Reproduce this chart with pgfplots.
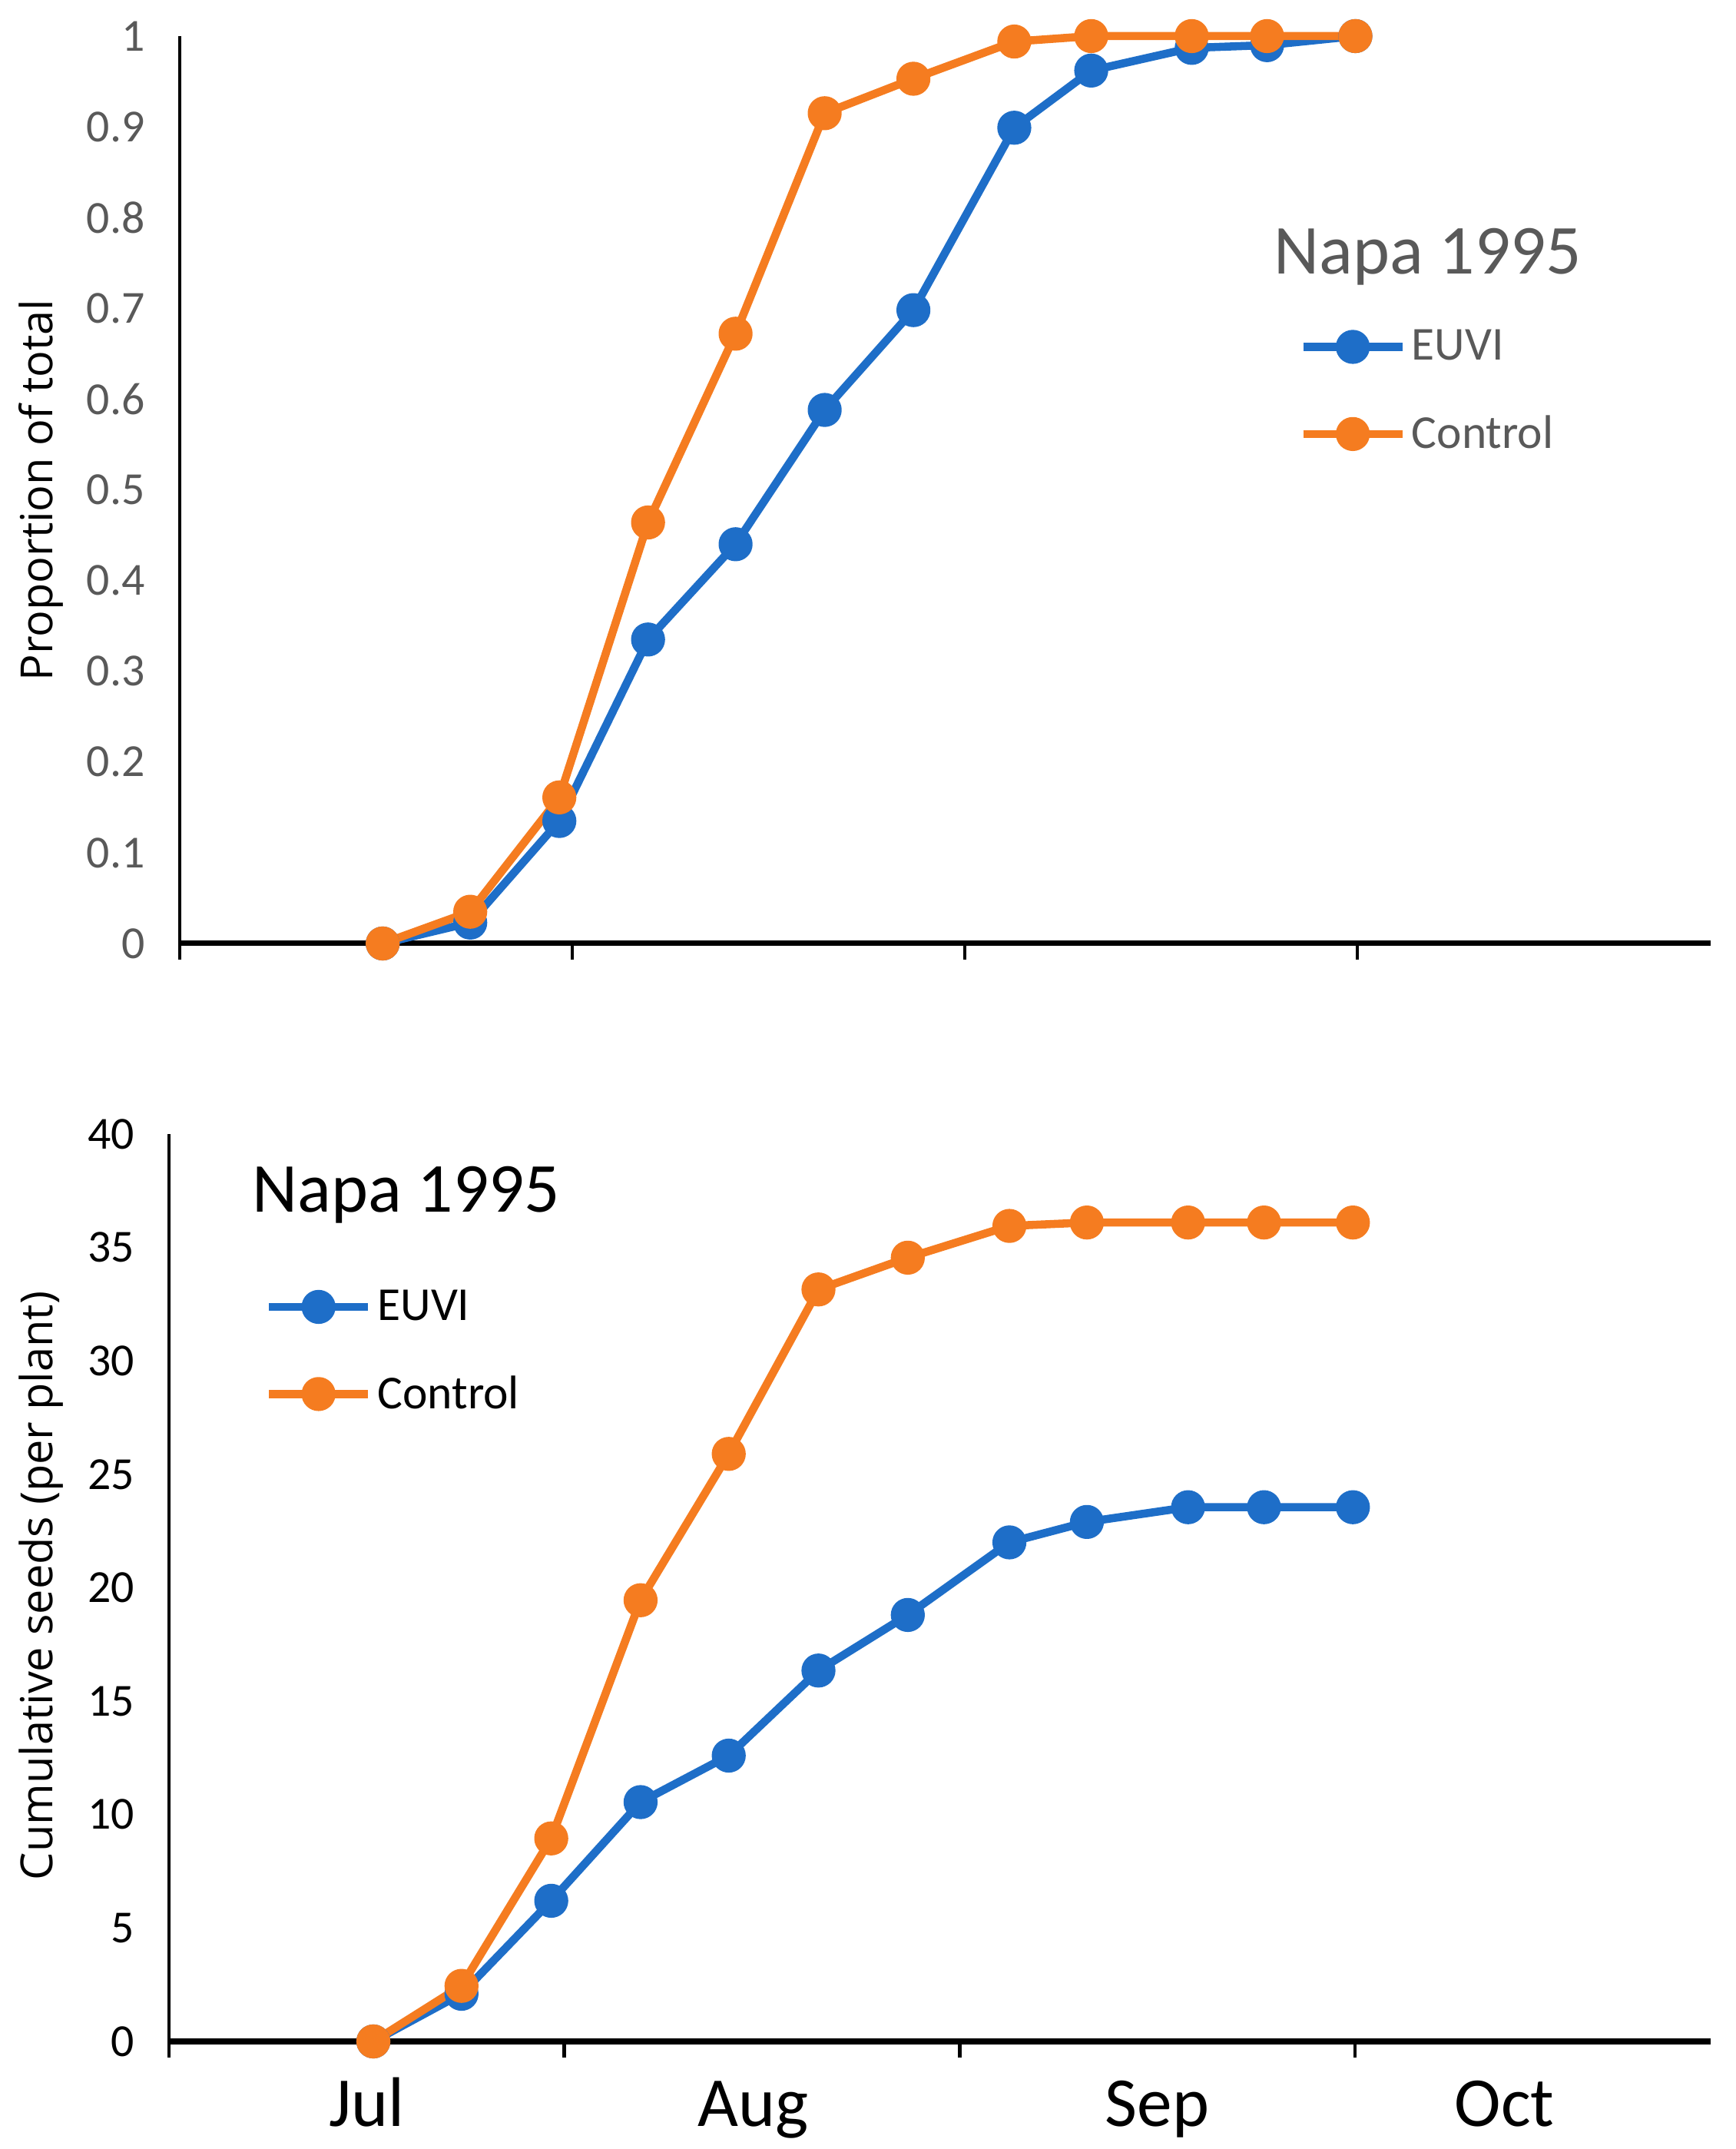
\documentclass[border=0pt]{standalone}
\usepackage{fontspec}
\setmainfont{Carlito}
\newfontfamily\labelfont{Open Sans}
\usepackage{pgfplots}
\pgfplotsset{compat=1.18}

\definecolor{euvi}{RGB}{30,110,200}
\definecolor{ctrl}{RGB}{245,124,32}
\definecolor{txtgray}{RGB}{89,89,89}

% x in months from 1 Jul (1 = Aug, 2 = Sep, 3 = Oct)
\pgfplotsset{
  seedaxis/.style={
    scale only axis, clip=false,
    xmin=0, xmax=3.9,
    axis x line=bottom, axis y line=left,
    x axis line style={-, line width=2pt, black},
    y axis line style={-, line width=1.3pt, black, shorten <=-0.21cm},
    tick align=outside,
    xtick={0.5,1.478,2.5,3.378},
    major tick length=0pt,
    minor xtick={1,2,3},
    minor tick length=0.21cm,
    minor tick style={line width=1.3pt, black},
    ytick style={draw=none},
    /pgf/number format/assume math mode=true,
    yticklabel style={font=\fontsize{17}{20}\selectfont, anchor=east, xshift=-0.33cm},
    xticklabel style={font=\fontsize{26}{30}\selectfont, anchor=base, yshift=-1.10cm},
    every axis plot/.append style={line width=3pt, mark=*, mark size=4.8pt, line join=round},
    legend image code/.code={\draw[mark repeat=2,mark phase=2,##1] plot coordinates {(0cm,0cm) (0.645cm,0cm) (1.29cm,0cm)};},
    legend style={draw=none, fill=none, inner sep=0pt, anchor=west, row sep=0.53cm,
      font=\fontsize{17.5}{21}\selectfont},
    legend cell align=left,
  },
}

\begin{document}
\begin{tikzpicture}
\useasboundingbox (0,0) rectangle (22.59cm,27.97cm);

% top: proportion of total
\begin{axis}[seedaxis,
    at={(2.34cm,15.69cm)}, anchor=south west,
    width=19.93cm, height=11.81cm,
    ymin=0, ymax=1, ytick={0,0.1,...,1},
    xticklabels={},
    yticklabel style={text=txtgray},
    legend style={at={(rel axis cs:0.7309,0.6088)}, text=txtgray},
]
\addplot[euvi] coordinates {
    (0.517,0) (0.740,0.023) (0.967,0.135) (1.193,0.335) (1.416,0.440) (1.643,0.588)
    (1.869,0.698) (2.126,0.899) (2.322,0.962) (2.578,0.987) (2.770,0.990) (2.995,1.0)
};
\addplot[ctrl] coordinates {
    (0.517,0) (0.740,0.035) (0.967,0.161) (1.193,0.464) (1.416,0.672) (1.643,0.915)
    (1.869,0.953) (2.126,0.994) (2.322,1.0) (2.578,1.0) (2.770,1.0) (2.995,1.0)
};
\legend{EUVI, Control}
\end{axis}

% bottom: cumulative seeds
\begin{axis}[seedaxis,
    at={(2.20cm,1.40cm)}, anchor=south west,
    width=20.07cm, height=11.81cm,
    ymin=0, ymax=40, ytick={0,5,...,40},
    xticklabels={Jul,Aug,Sep,Oct},
    legend style={at={(rel axis cs:0.0619,0.7608)}},
]
\addplot[euvi] coordinates {
    (0.517,0) (0.740,2.1) (0.967,6.2) (1.193,10.55) (1.416,12.6) (1.643,16.35)
    (1.869,18.8) (2.126,22.0) (2.322,22.9) (2.578,23.55) (2.770,23.55) (2.995,23.55)
};
\addplot[ctrl] coordinates {
    (0.517,0) (0.740,2.45) (0.967,8.95) (1.193,19.45) (1.416,25.9) (1.643,33.15)
    (1.869,34.55) (2.126,35.95) (2.322,36.1) (2.578,36.1) (2.770,36.1) (2.995,36.1)
};
\legend{EUVI, Control}
\end{axis}

\node[font=\fontsize{26}{30}\selectfont, text=txtgray, anchor=base] at (18.59cm,24.40cm) {Napa 1995};
\node[font=\fontsize{26}{30}\selectfont, anchor=base] at (5.29cm,12.19cm) {Napa 1995};
\node[font=\labelfont\fontsize{16.4}{20}\selectfont, rotate=90, anchor=base] at (0.69cm,21.59cm) {Proportion of total};
\node[font=\labelfont\fontsize{16.4}{20}\selectfont, rotate=90, anchor=base] at (0.69cm,7.33cm) {Cumulative seeds (per plant)};
\end{tikzpicture}
\end{document}
